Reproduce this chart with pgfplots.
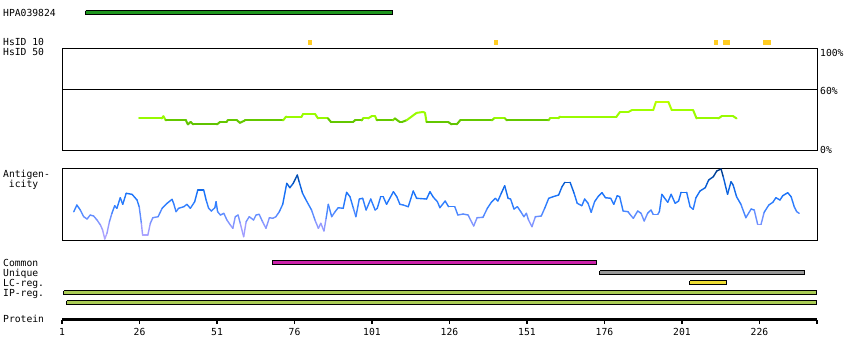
\documentclass[border=0pt]{standalone}
\usepackage{pgfplots}
\pgfplotsset{compat=1.18}
\usepackage{pgfplotstable}
\usepackage{fontspec}
\setmainfont{DejaVu Sans Mono}

\definecolor{hpagreen}{RGB}{30,150,30}
\definecolor{hsyellow}{RGB}{255,204,34}
\definecolor{commonmag}{RGB}{204,34,170}
\definecolor{uniquegray}{RGB}{153,153,153}
\definecolor{lcyellow}{RGB}{238,221,51}
\definecolor{ipgreen}{RGB}{170,204,85}

\pgfplotstableread{
res pct
25.9 31.1
33.2 31.1
33.7 33.3
34.5 29.1
41.0 29.1
41.6 25.2
42.5 27.7
43.3 25.2
51.0 25.2
52.0 27.7
54.1 27.7
54.5 29.4
57.4 29.4
58.4 26.8
60.0 29.1
72.3 29.1
73.3 33.0
78.3 33.0
78.8 35.6
82.6 35.6
83.6 31.1
86.8 31.1
87.8 27.5
94.8 27.5
95.5 29.1
97.7 29.1
98.1 31.1
99.7 31.1
100.9 33.3
102.0 33.3
102.6 29.1
107.7 29.1
108.4 31.1
110.0 27.5
110.6 27.5
112.2 29.4
115.4 36.6
117.5 37.5
118.1 36.6
118.6 27.5
125.6 27.5
126.7 25.2
128.3 25.2
129.4 29.1
139.6 29.1
140.4 31.1
143.9 31.1
144.5 29.1
157.9 29.1
158.4 31.1
161.1 31.1
161.6 33.0
179.9 33.0
181.0 37.5
183.7 37.5
184.8 39.2
191.7 39.2
192.6 47.4
196.6 47.4
197.7 39.2
204.6 39.2
205.7 31.1
212.7 31.1
213.8 33.3
217.5 33.3
218.6 31.1
}\simdata

\pgfplotstableread{
res v
4.8 28.3
5.8 35
6.9 30
8.0 23.3
9.1 21
10.1 25
11.2 24
12.3 20
13.4 15
14.1 10
14.8 1
15.5 6.7
16.3 18.3
17.1 26.7
18.0 34.3
18.7 31.7
19.8 42.3
20.6 35.7
21.7 46.7
23.6 45.7
25.2 40
25.9 33.3
26.6 16.7
27.0 5
28.7 5
29.5 16.7
30.3 22.3
32.0 23.3
33.3 31.7
34.9 36.7
36.5 40.7
37.0 36.7
37.8 28.3
38.6 31.7
40.3 33.3
41.3 35.7
42.4 31.7
43.8 38.3
44.8 50
46.7 50
47.5 40
48.3 31.7
49.2 29
50.3 32.3
50.7 38.3
51.2 28.3
52.1 25
53.2 26.7
54.2 20
55.3 15
56.1 11.7
56.9 23.3
57.8 25
58.5 16.7
59.6 3.3
60.4 18.3
61.4 23.3
62.8 20
63.6 25
64.6 25.7
65.7 18.3
66.8 11.7
67.9 22.3
69.0 21.7
70.0 23.3
71.1 28.3
72.2 35.7
73.5 56.7
74.5 52.3
75.6 56.7
76.9 65
77.5 58.3
78.6 46.7
79.9 39
81.5 30
82.6 20
83.7 11.7
84.5 16.7
85.5 9
86.2 21.7
86.9 35.7
88.0 23.3
89.1 28.3
90.1 32.3
91.7 31.7
92.8 47.7
93.9 43.3
95.0 31.7
95.8 23.3
96.9 41
98.0 41.7
99.1 30
100.6 41
102.0 30
102.7 31.7
103.8 43.3
104.6 43.3
105.7 35.7
107.9 48.3
109.0 43.3
110.0 35.7
111.1 35
112.7 33.3
114.3 49
115.4 41.7
118.6 41
119.7 48.3
120.8 42.7
122.1 38.3
122.9 32.3
124.6 39
125.7 33.3
127.7 33.3
128.7 25
130.4 26
132.0 25
132.8 20
133.8 14
134.9 22.3
136.8 22.7
138.2 31.7
139.5 37.7
140.8 41.7
141.6 39
142.7 46.7
143.8 54.3
144.9 41.7
145.7 41
146.8 31
147.9 33.3
149.0 28.3
150.0 23.3
150.8 26.7
151.5 20
152.6 13.3
153.7 23.3
155.6 24
156.7 31.7
158.0 41.7
159.4 43.3
161.2 45
162.3 53.3
163.2 57.7
164.9 57.7
166.2 46.7
167.2 36.7
168.7 34.3
169.6 41
170.7 36.7
171.7 27.7
172.8 38.3
173.9 43.3
175.2 47.3
176.3 42.3
178.0 41.7
179.0 35.7
180.1 44.3
180.9 43.3
182.0 29
183.6 28.3
184.2 25.7
185.3 21.7
186.7 29
187.8 26.7
188.8 19
189.9 26.7
191.0 30
191.7 25.7
193.2 25.7
193.7 28.3
194.5 45.7
195.3 42.3
196.4 37.7
197.5 45.7
198.8 36.7
199.9 39
200.7 47.7
202.5 47.7
203.6 33.3
204.6 30.7
205.5 42.3
206.8 49
208.5 52.3
209.6 60
211.1 63.3
212.2 69
213.6 71
214.3 63.3
215.7 45.7
216.8 58.3
217.5 55
218.6 43.3
220.0 35.7
221.6 22.3
223.3 31
224.3 30
225.4 15.7
226.5 15.7
227.5 27.7
229.0 35
230.3 37.7
231.3 42.3
232.6 40
233.5 44.3
235.1 47.3
236.2 43.3
237.2 33.3
238.0 28.3
238.8 26.7
}\antdata

\begin{document}
\fontsize{9.7}{11}\selectfont
\begin{tikzpicture}
\path[use as bounding box] (0pt,0pt) rectangle (850pt,-360pt);

% feature tracks (y in track rows, reversed)
\begin{axis}[at={(62pt,0pt)}, anchor=north west, scale only axis,
  width=755pt, height=360pt, xmin=1, xmax=244.55, ymin=0, ymax=360,
  y dir=reverse, hide axis, clip=false]
\addplot[draw=black, line width=1pt, fill=hpagreen] coordinates {(8.6,10.5)(107.6,10.5)(107.6,14.5)(8.6,14.5)(8.6,10.5)};
\addplot[draw=none, fill=hsyellow] coordinates {(80.3,40)(81.6,40)(81.6,45)(80.3,45)};
\addplot[draw=none, fill=hsyellow] coordinates {(140.4,40)(141.6,40)(141.6,45)(140.4,45)};
\addplot[draw=none, fill=hsyellow] coordinates {(211.3,40)(212.6,40)(212.6,45)(211.3,45)};
\addplot[draw=none, fill=hsyellow] coordinates {(214.2,40)(216.5,40)(216.5,45)(214.2,45)};
\addplot[draw=none, fill=hsyellow] coordinates {(227.1,40)(229.7,40)(229.7,45)(227.1,45)};
\addplot[draw=black, line width=1pt, fill=commonmag] coordinates {(68.8,260.5)(173.3,260.5)(173.3,264.5)(68.8,264.5)(68.8,260.5)};
\addplot[draw=black, line width=1pt, fill=uniquegray] coordinates {(174.5,270.5)(240.4,270.5)(240.4,274.5)(174.5,274.5)(174.5,270.5)};
\addplot[draw=black, line width=1pt, fill=lcyellow] coordinates {(203.5,280.5)(215.3,280.5)(215.3,284.5)(203.5,284.5)(203.5,280.5)};
\addplot[draw=black, line width=1pt, fill=ipgreen] coordinates {(1.6,290.5)(244.3,290.5)(244.3,294.5)(1.6,294.5)(1.6,290.5)};
\addplot[draw=black, line width=1pt, fill=ipgreen] coordinates {(2.5,300.5)(244.3,300.5)(244.3,304.5)(2.5,304.5)(2.5,300.5)};
\end{axis}

% similarity
\begin{axis}[at={(62pt,-48.5pt)}, anchor=north west, scale only axis,
  width=755pt, height=101.5pt, xmin=1, xmax=244.55, ymin=0, ymax=100,
  xtick=\empty, ytick=\empty, axis line style={line width=1pt}, clip=false,
  colormap={simmap}{rgb255(0)=(60,150,0); rgb255(28)=(100,200,0); rgb255(29.6)=(100,200,0); rgb255(30.6)=(150,250,0); rgb255(40)=(160,255,0); rgb255(50)=(205,255,0); rgb255(100)=(255,255,0)},
  point meta min=0, point meta max=100]
\addplot[black, line width=1pt] coordinates {(1,60)(244.55,60)};
\addplot[mesh, point meta=y, line width=2pt, line cap=round] table[x=res, y=pct] {\simdata};
\end{axis}

% antigenicity
\begin{axis}[at={(62pt,-168.5pt)}, anchor=north west, scale only axis,
  width=755pt, height=71.5pt, xmin=1, xmax=244.55, ymin=0, ymax=71.5,
  xtick=\empty, ytick=\empty, axis line style={line width=1pt}, clip=false,
  colormap={antmap}{rgb255(0)=(185,170,255); rgb255(12)=(155,155,255); rgb255(22)=(110,145,255); rgb255(32)=(55,130,255); rgb255(45)=(25,115,250); rgb255(55)=(10,95,215); rgb255(64)=(0,72,165); rgb255(72)=(0,50,120)},
  point meta min=0, point meta max=72]
\addplot[mesh, point meta=y, line width=1.4pt, line cap=round] table[x=res, y=v] {\antdata};
\end{axis}

% protein ruler
\begin{axis}[at={(62pt,-319.5pt)}, anchor=south west, scale only axis,
  width=755pt, height=10pt, xmin=1, xmax=244.55, ymin=0, ymax=1,
  axis x line=bottom, axis y line=none, x axis line style={-, line width=3pt},
  xtick={1,26,...,226}, extra x ticks={244.55}, extra x tick labels={},
  tick align=outside, major tick length=4.5pt,
  every tick/.style={black, line width=1.3pt},
  /pgf/number format/assume math mode=true,
  xticklabel style={inner sep=0pt, anchor=north, yshift=-4pt}]
\addplot[draw=none] coordinates {(1,0.5)};
\end{axis}

\node[anchor=base west, inner sep=0pt] at (3pt,-16pt) {HPA039824};
\node[anchor=base west, inner sep=0pt] at (3pt,-45.5pt) {HsID 10};
\node[anchor=base west, inner sep=0pt] at (3pt,-55.5pt) {HsID 50};
\node[anchor=base west, inner sep=0pt] at (3pt,-177pt) {Antigen-};
\node[anchor=base west, inner sep=0pt] at (8.8pt,-187pt) {icity};
\node[anchor=base west, inner sep=0pt] at (3pt,-266pt) {Common};
\node[anchor=base west, inner sep=0pt] at (3pt,-276pt) {Unique};
\node[anchor=base west, inner sep=0pt] at (3pt,-286pt) {LC-reg.};
\node[anchor=base west, inner sep=0pt] at (3pt,-296pt) {IP-reg.};
\node[anchor=base west, inner sep=0pt] at (3pt,-322.5pt) {Protein};
\node[anchor=base west, inner sep=0pt] at (820pt,-56pt) {100\%};
\node[anchor=base west, inner sep=0pt] at (820pt,-94.5pt) {60\%};
\node[anchor=base west, inner sep=0pt] at (820pt,-153.5pt) {0\%};
\end{tikzpicture}
\end{document}
